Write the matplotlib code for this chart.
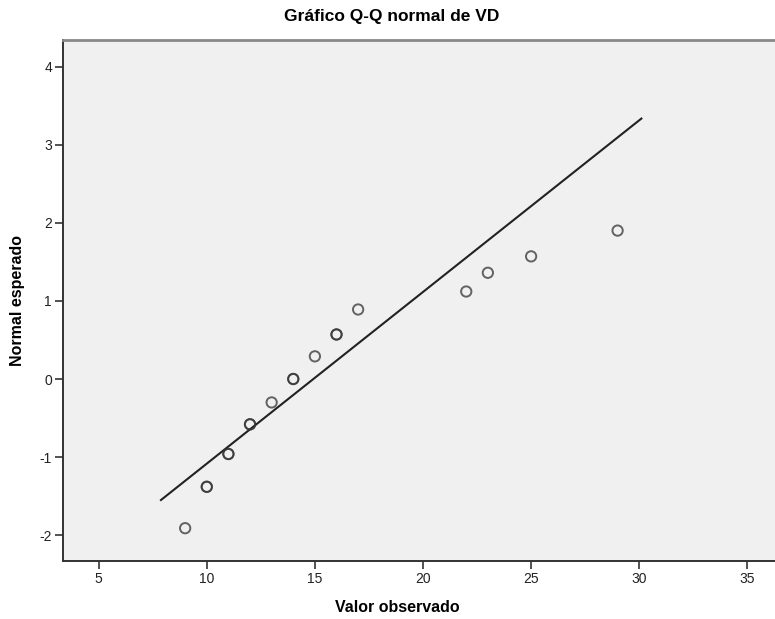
import numpy as np
import matplotlib.pyplot as plt

observed = [9, 10, 11, 12, 13, 14, 15, 16, 17, 22, 23, 25, 29]
expected = [-1.91, -1.38, -0.96, -0.58, -0.30, 0.0, 0.29, 0.57, 0.89, 1.12, 1.36, 1.57, 1.90]
# how many cases share each point (overlaps draw darker)
counts = [1, 2, 2, 2, 1, 2, 1, 2, 1, 1, 1, 1, 1]

# reference line: normal with this mean / sd
mean_vd = 14.93
sd_vd = 4.55
line_x = [7.88, 30.1]

xticks = [5, 10, 15, 20, 25, 30, 35]
yticks = [-2, -1, 0, 1, 2, 3, 4]

plt.rcParams['font.family'] = ['Liberation Sans', 'DejaVu Sans']
plt.rcParams['axes.unicode_minus'] = False

fig = plt.figure(figsize=(7.75, 6.19), dpi=100)
ax = fig.add_axes([63/775, 58/619, 1 - 63/775, 521/619])
ax.set_facecolor('#f0f0f0')

lx = np.array(line_x)
ax.plot(lx, (lx - mean_vd) / sd_vd, color='#222222', lw=1.5, zorder=2)

for x, y, c in zip(observed, expected, counts):
    for k in range(c):
        ax.scatter(x, y, s=55, facecolors='none', edgecolors='#333333',
                   linewidths=1.4, alpha=0.75, zorder=3)

ax.set_xlim(3.35, 36.28)
ax.set_ylim(-2.33, 4.34)
ax.set_xticks(xticks)
ax.set_yticks(yticks)
ax.tick_params(direction='out', length=6, width=1.2, color='#333333',
               labelsize=10, labelcolor='#222222', pad=2)

for s in ['left', 'bottom']:
    ax.spines[s].set_color('#333333')
    ax.spines[s].set_linewidth(1.4)
ax.spines['top'].set_color('#888888')
ax.spines['top'].set_linewidth(2)
ax.spines['right'].set_visible(False)

fig.text(392/775, 1 - 17/619, 'Gráfico Q-Q normal de VD', ha='center', va='center',
         fontsize=12.5, fontweight='bold')
fig.text(397/775, 1 - 607/619, 'Valor observado', ha='center', va='center',
         fontsize=11.5, fontweight='bold')
fig.text(18/775, 1 - 300/619, 'Normal esperado', ha='center', va='center',
         rotation=90, fontsize=11.5, fontweight='bold')

fig.savefig('out.png', dpi=100)
